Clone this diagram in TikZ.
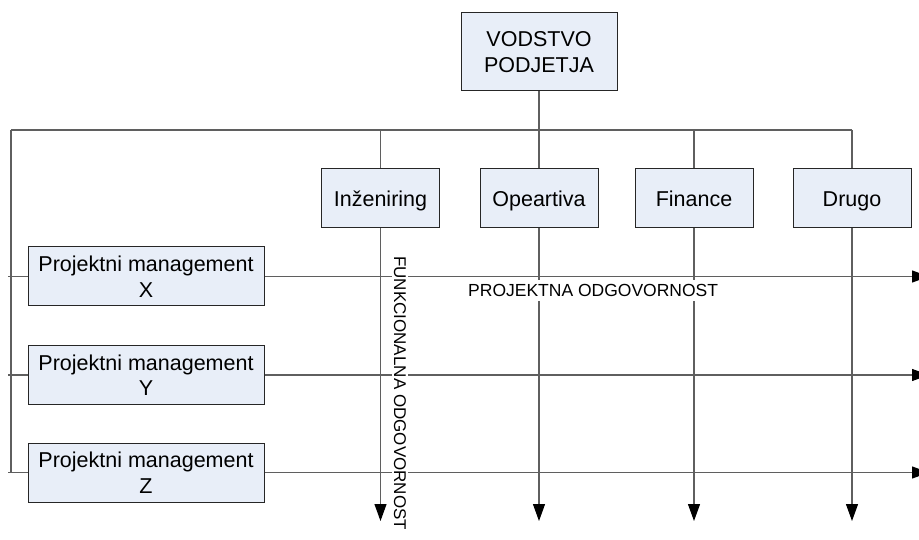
\documentclass[tikz,border=0pt]{standalone}
\usepackage{fontspec}
\setmainfont{Liberation Sans}
\usetikzlibrary{arrows.meta}
\definecolor{boxfill}{RGB}{232,238,248}
\definecolor{linegray}{RGB}{95,95,95}
\begin{document}
\begin{tikzpicture}[x=1pt,y=-1pt,
  orgbox/.style={draw=black!85, fill=boxfill, line width=1pt, inner sep=0pt,
    align=center, font=\fontsize{21.5}{25.5}\selectfont},
  topbox/.style={orgbox, minimum width=156pt, minimum height=78pt},
  funcbox/.style={orgbox, minimum width=118pt, minimum height=59pt,
    text height=15.4pt, text depth=0pt},
  projbox/.style={orgbox, minimum width=236pt, minimum height=59pt},
  link/.style={draw=linegray, line width=1.1pt},
  flow/.style={link, -{Triangle[length=17pt,width=12pt,color=black]}},
  axislabel/.style={fill=white, inner sep=2pt, font=\fontsize{17.5}{20}\selectfont}]
\clip (0,0) rectangle (919,540);
\useasboundingbox (0,0) rectangle (919,540);

% management and functional departments
\node[topbox] (top) at (539,52) {VODSTVO\\PODJETJA};
\node[funcbox] (ing) at (380.5,198.5) {Inženiring};
\node[funcbox] (op)  at (539,198.5)   {Opeartiva};
\node[funcbox] (fin) at (694,198.5)   {Finance};
\node[funcbox] (dru) at (852,198.5)   {Drugo};

% project management units
\node[projbox] (pmx) at (146,276.5) {Projektni management\\X};
\node[projbox] (pmy) at (146,375)   {Projektni management\\Y};
\node[projbox] (pmz) at (146,472.5) {Projektni management\\Z};

% reference points for the bus and the arrow ends
\coordinate (busL) at (11,130);
\coordinate (busR) at (852,130);
\coordinate (stubL) at (8,0);
\coordinate (edgeR) at (929,0);
\coordinate (bottom) at (0,521);

% organisational bus
\draw[link] (top.south) -- (top.south |- busL);
\draw[link] (busL) -- (busR);
\foreach \f in {ing,op,fin,dru}
  \draw[link] (\f.north |- busL) -- (\f.north);
\draw[link] (busL) -- (busL |- pmz.west);
\foreach \p in {pmx,pmy,pmz}
  \draw[link] (stubL |- \p.west) -- (\p.west);

% functional responsibility (downwards)
\foreach \f in {ing,op,fin,dru}
  \draw[flow] (\f.south) -- (\f.south |- bottom);

% project responsibility (to the right)
\foreach \p in {pmx,pmy,pmz}
  \draw[flow] (\p.east) -- (\p.east -| edgeR);

% axis labels
\node[axislabel, rotate=-90, anchor=west, font=\fontsize{17}{20}\selectfont]
  (funlabel) at (400,254) {FUNKCIONALNA ODGOVORNOST};
\node[axislabel, inner ysep=4pt, anchor=west] (projlabel) at (466,290.5)
  {PROJEKTNA ODGOVORNOST};
\end{tikzpicture}
\end{document}
